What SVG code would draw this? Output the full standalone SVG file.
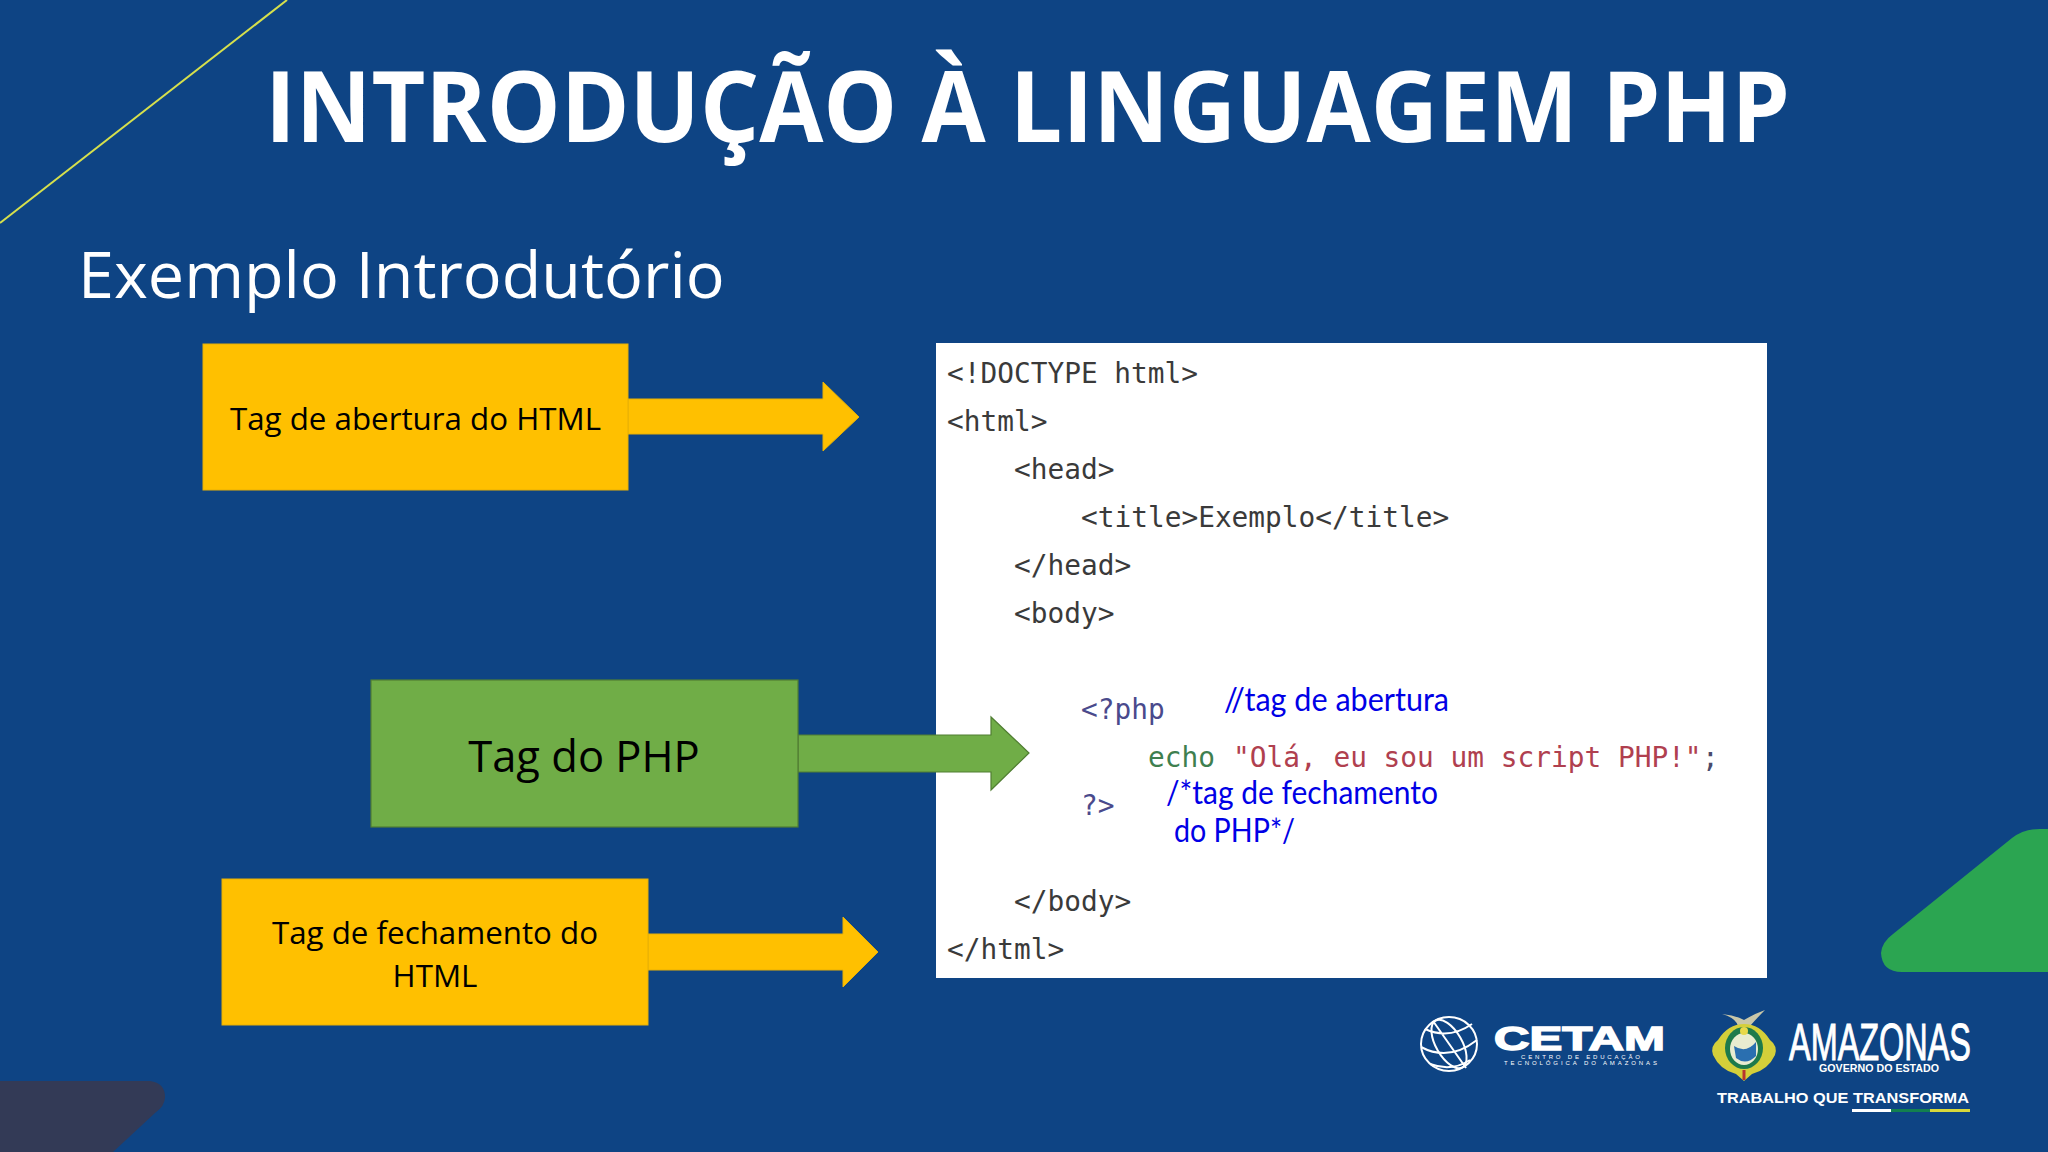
<svg xmlns="http://www.w3.org/2000/svg" width="2048" height="1152" viewBox="0 0 2048 1152">
<style>
.h{font-family:"Open Sans","Noto Sans",sans-serif;fill:#fff}
.lb{font-family:"Open Sans","Noto Sans",sans-serif;fill:#000;text-anchor:middle}
.c{font-family:"DejaVu Sans Mono","Liberation Mono",monospace;font-size:27.8px;fill:#3a3a3a}
.b{font-family:"Lato","Open Sans",sans-serif;font-size:32px;fill:#0000e6}
.o{fill:#ffc000;stroke:#e8b004;stroke-width:1}
.g{fill:#70ad47;stroke:#507e32;stroke-width:1.2}
.lw{fill:#fff;font-family:"Liberation Sans",Arial,sans-serif}
.gl{fill:none;stroke:#fff;stroke-width:2}
</style>
<rect width="2048" height="1152" fill="#0e4484"/>
<line x1="0" y1="223" x2="287" y2="0" stroke="#d6e04c" stroke-width="2"/>
<path d="M2048 972H1902Q1882 972 1881 953Q1882 942 1893 934L2012 838Q2024 829 2040 829H2048Z" fill="#2ba551"/>
<path d="M0 1081H150Q165 1083 165 1097Q165 1106 155 1113L113 1152H0Z" fill="#333a56"/>
<text class="h" x="265" y="142" font-size="98" font-weight="700" textLength="1525" lengthAdjust="spacingAndGlyphs">INTRODUÇÃO À LINGUAGEM PHP</text>
<text class="h" x="78" y="298" font-size="64.700">Exemplo Introdutório</text>

<g id="code-panel">
<rect x="936" y="343" width="831" height="635" fill="#fff"/>
<text class="c" x="947" y="383">&lt;!DOCTYPE html&gt;</text>
<text class="c" x="947" y="431">&lt;html&gt;</text>
<text class="c" x="1014" y="479">&lt;head&gt;</text>
<text class="c" x="1081" y="527">&lt;title&gt;Exemplo&lt;/title&gt;</text>
<text class="c" x="1014" y="575">&lt;/head&gt;</text>
<text class="c" x="1014" y="623">&lt;body&gt;</text>
<text class="c" x="1081" y="719" style="fill:#4a4a8c">&lt;?php</text>
<text class="c" x="1148" y="767" style="fill:#3f7f4f">echo</text>
<text class="c" x="1233" y="767" style="fill:#b0404f">"Olá, eu sou um script PHP!"</text>
<text class="c" x="1702" y="767" style="fill:#4a4a6c">;</text>
<text class="c" x="1081" y="815" style="fill:#4a4a8c">?&gt;</text>
<text class="c" x="1014" y="911">&lt;/body&gt;</text>
<text class="c" x="947" y="959">&lt;/html&gt;</text>
<text class="b" x="1224" y="711" textLength="225" lengthAdjust="spacingAndGlyphs">//tag de abertura</text>
<text class="b" x="1166" y="804" textLength="272" lengthAdjust="spacingAndGlyphs">/*tag de fechamento</text>
<text class="b" x="1174" y="842" textLength="121" lengthAdjust="spacingAndGlyphs">do PHP*/</text>
</g>

<g id="connectors">
<polygon class="o" points="628,399 823,399 823,382 859,417 823,451 823,434 628,434"/>
<polygon class="g" points="798,735 991,735 991,717 1029,753 991,790 991,772 798,772"/>
<polygon class="o" points="648,934 843,934 843,917 878,952 843,987 843,970 648,970"/>
</g>

<g id="node-abertura">
<rect class="o" x="203" y="344" width="425" height="146"/>
<text class="lb" x="415.500" y="430" font-size="31.300">Tag de abertura do HTML</text>
</g>
<g id="node-php">
<rect class="g" x="371" y="680" width="427" height="147"/>
<text class="lb" x="584" y="772" font-size="43.500">Tag do PHP</text>
</g>
<g id="node-fechamento">
<rect class="o" x="222" y="879" width="426" height="146"/>
<text class="lb" x="435" y="944" font-size="31.300">Tag de fechamento do</text>
<text class="lb" x="435" y="987" font-size="31.300">HTML</text>
</g>

<g id="logo-cetam">
<ellipse class="gl" cx="1449" cy="1044" rx="28" ry="27"/>
<ellipse class="gl" cx="1449" cy="1044" rx="13" ry="27" transform="rotate(-30 1449 1044)"/>
<path class="gl" d="M1425 1029Q1449 1040 1472 1024M1421 1047Q1449 1062 1477 1040M1430 1064Q1452 1072 1470 1060M1433 1021L1466 1068"/>
<text class="lw" x="1494" y="1050" font-size="34" font-weight="700" stroke="#fff" stroke-width="1.5" textLength="171" lengthAdjust="spacingAndGlyphs">CETAM</text>
<text class="lw" x="1521" y="1059" font-size="6" textLength="119">CENTRO DE EDUCAÇÃO</text>
<text class="lw" x="1504" y="1065" font-size="6" textLength="153">TECNOLÓGICA DO AMAZONAS</text>
</g>
<g id="logo-amazonas">
<path d="M1722 1014Q1735 1015 1744 1020Q1754 1014 1765 1010Q1757 1018 1750 1026H1738Q1736 1018 1722 1014Z" fill="#c9c7a8"/>
<path d="M1744 1024Q1760 1024 1770 1040Q1778 1046 1775 1055Q1768 1070 1752 1074L1744 1081L1736 1074Q1720 1070 1713 1055Q1710 1046 1718 1040Q1728 1024 1744 1024Z" fill="#d4cf3a"/>
<ellipse cx="1744" cy="1048" rx="19" ry="21" fill="#1d7a4b"/>
<ellipse cx="1744" cy="1049" rx="14" ry="16" fill="#e8ecd0"/>
<path d="M1734 1046Q1746 1054 1756 1042V1056Q1746 1066 1736 1058Z" fill="#2a6fb0"/>
<circle cx="1744" cy="1031" r="4" fill="#e8d94a"/>
<path d="M1744 1070V1080" stroke="#b8332e" stroke-width="3"/>
<text class="lw" x="1789" y="1060" font-size="51" stroke="#fff" stroke-width="1" textLength="182" lengthAdjust="spacingAndGlyphs">AMAZONAS</text>
<text class="lw" x="1819" y="1072" font-size="10" font-weight="700" textLength="120" lengthAdjust="spacingAndGlyphs">GOVERNO DO ESTADO</text>
<text class="lw" x="1717" y="1103" font-size="15.500" font-weight="700" textLength="252" lengthAdjust="spacingAndGlyphs">TRABALHO QUE TRANSFORMA</text>
<rect x="1852" y="1109" width="39" height="3" fill="#fff"/>
<rect x="1891" y="1109" width="39" height="3" fill="#13804f"/>
<rect x="1930" y="1109" width="40" height="3" fill="#d8d83a"/>
</g>
</svg>
